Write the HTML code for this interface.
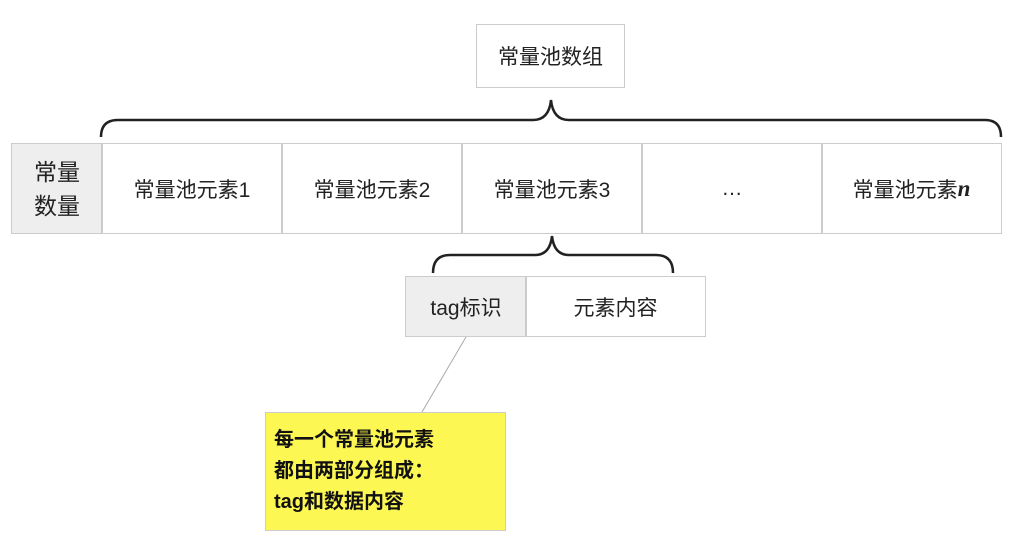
<!DOCTYPE html>
<html><head><meta charset="utf-8"><style>
body{margin:0;width:1024px;height:551px;background:#fff;position:relative;overflow:hidden;font-family:"Liberation Sans","Noto Sans CJK SC",sans-serif;color:#222}
.b{position:absolute;border:1.5px solid #ccc;box-sizing:border-box;display:flex;align-items:center;justify-content:center;font-size:21px;text-align:center}
.g{background:#eee}
</style></head><body>
<div class="b" style="left:476px;top:24px;width:149px;height:64px">常量池数组</div>
<div class="b g" style="left:11px;top:143px;width:92px;height:91px;line-height:34px;font-size:23px">常量<br>数量</div>
<div class="b" style="left:101px;top:143px;width:182px;height:91px">常量池元素1</div>
<div class="b" style="left:281px;top:143px;width:182px;height:91px">常量池元素2</div>
<div class="b" style="left:461px;top:143px;width:182px;height:91px">常量池元素3</div>
<div class="b" style="left:641px;top:143px;width:182px;height:91px">…</div>
<div class="b" style="left:821px;top:143px;width:181px;height:91px">常量池元素<i style="font-family:'Liberation Serif',serif;font-weight:bold;font-size:23px">n</i></div>
<div class="b g" style="left:405px;top:276px;width:122px;height:61px">tag标识</div>
<div class="b" style="left:525px;top:276px;width:181px;height:61px">元素内容</div>
<div style="position:absolute;left:265px;top:412px;width:241px;height:119px;background:#fdf754;border:1.5px solid #ccc;box-sizing:border-box;padding:12px 0 0 8px;font-size:20px;font-weight:bold;line-height:31px;color:#111">每一个常量池元素<br>都由两部分组成：<br>tag和数据内容</div>
<svg width="1024" height="551" style="position:absolute;left:0;top:0">
<g fill="none" stroke="#222" stroke-width="2.5">
<path d="M101,137 Q101,120 118,120 L533,120 Q549,120 551,100 Q553,120 569,120 L985,120 Q1001,120 1001,137"/>
<path d="M433,273 Q433,255 450,255 L535,255 Q550,255 552,236 Q554,255 569,255 L656,255 Q673,255 673,273"/>
</g>
<line x1="466" y1="337" x2="422" y2="412" stroke="#aaa" stroke-width="1"/>
</svg>
</body></html>
